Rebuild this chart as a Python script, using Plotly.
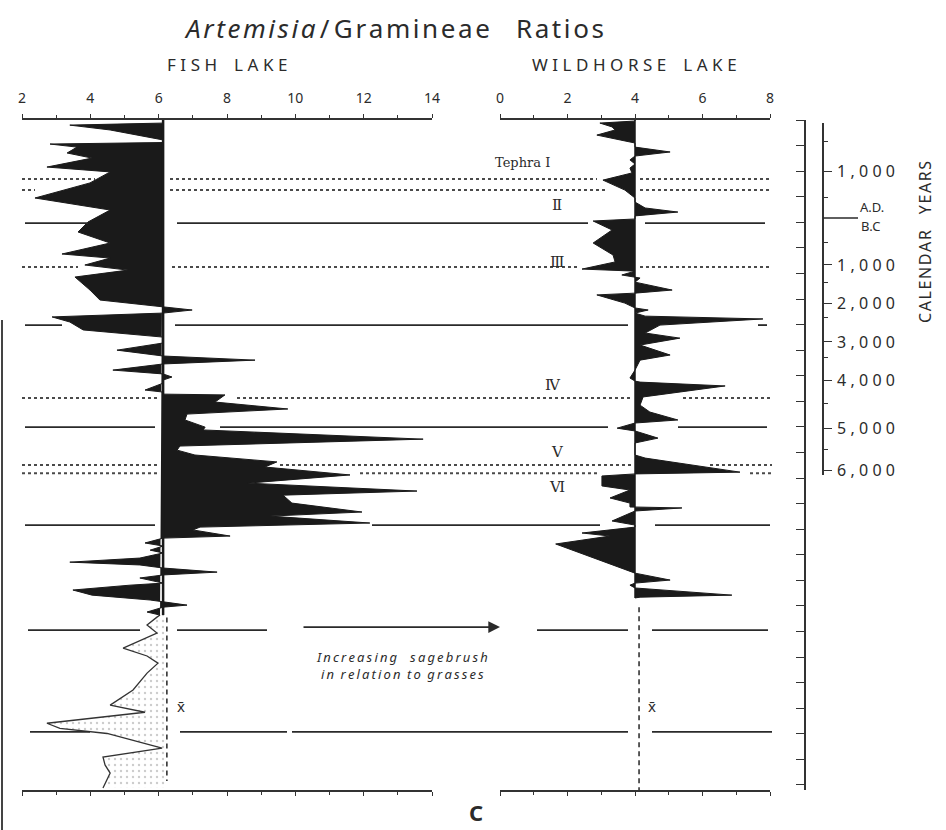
import plotly.graph_objects as go

W, H = 946, 830

# ---------------- DATA ----------------
# Fish Lake Artemisia/Gramineae ratio vs core depth (depth units = major tick spacing)
FISH_MEAN = 6.13
FISH_XBAR = 6.24
FISH_FILL_DEPTH = [0.00, 0.12, 0.20, 0.39, 0.78, 0.88, 0.94, 1.06, 1.29, 1.49, 1.84, 2.03,
                   2.46, 3.05, 3.52, 3.99, 4.38, 4.81, 5.24, 5.40, 5.67, 5.87, 6.14, 6.65,
                   7.04, 7.31, 7.43, 7.55, 7.70, 7.90, 8.21, 8.49, 8.72, 9.00, 9.23, 9.39,
                   9.54, 9.78, 9.93, 10.05, 10.17, 10.29, 10.56, 10.64, 10.72, 10.75, 11.03,
                   11.30, 11.50, 11.73, 12.01, 12.12, 12.48, 12.75, 12.91, 13.10, 13.37, 13.57,
                   13.88, 14.20, 14.51, 14.67, 14.98, 15.33, 15.49, 15.76, 15.92, 16.03, 16.27,
                   16.35, 16.54, 16.66, 16.82, 16.93, 17.13, 17.29, 17.40, 17.52, 17.68, 17.79,
                   17.91, 18.11, 18.19, 18.38, 18.58, 18.77, 18.85, 18.97, 19.05, 19.24, 19.36]
FISH_FILL_VALUE = [6.13, 6.13, 3.40, 4.58, 6.13, 6.13, 2.82, 3.61, 3.32, 4.05, 2.73, 4.58,
                   3.99, 2.38, 4.58, 3.93, 3.64, 4.58, 3.17, 4.58, 3.84, 5.10, 3.55, 3.99,
                   4.28, 6.13, 6.98, 6.13, 2.88, 3.40, 3.79, 6.13, 6.13, 4.78, 6.13, 8.82,
                   6.13, 4.66, 6.13, 6.39, 6.13, 6.13, 5.60, 6.13, 6.13, 7.94, 7.65,
                   9.78, 6.83, 6.77, 7.36, 7.30, 13.74, 6.62, 6.54, 7.06, 9.46, 9.11,
                   11.60, 8.61, 13.56, 9.64, 9.90, 11.95, 9.26, 12.18, 7.21, 7.00, 8.09,
                   6.13, 5.60, 6.13, 5.75, 6.13, 5.45, 3.40, 5.45, 6.13, 7.71, 6.13,
                   5.45, 6.13, 5.16, 3.49, 4.05, 5.75, 6.13, 6.83, 6.13, 5.66, 6.04]
FISH_LOW_DEPTH = [19.36, 19.44, 19.75, 20.06, 20.65, 20.96, 21.24, 21.63, 22.29, 22.88,
                  23.16, 23.59, 23.79, 23.99, 24.56, 24.91, 25.22, 25.54, 26.12]
FISH_LOW_VALUE = [6.04, 5.95, 5.66, 5.95, 4.96, 5.66, 5.98, 5.66, 5.25, 4.58,
                  5.60, 2.73, 3.11, 4.49, 6.10, 4.37, 4.43, 4.58, 4.37]

# Wildhorse Lake
WILD_MEAN = 4.00
WILD_XBAR = 4.12
WILD_DEPTH = [0.00, 0.04, 0.12, 0.27, 0.39, 0.59, 0.78, 0.90, 1.06, 1.25, 1.41, 1.56, 1.72,
              1.88, 2.07, 2.35, 2.74, 3.05, 3.21, 3.44, 3.60, 3.75, 3.87, 3.95, 4.30, 4.81,
              5.28, 5.55, 5.83, 5.91, 6.06, 6.18, 6.34, 6.65, 6.77, 6.84, 7.16, 7.35, 7.43,
              7.55, 7.67, 7.78, 8.02, 8.33, 8.53, 8.80, 9.19, 9.39, 9.78, 10.09, 10.21,
              10.25, 10.40, 10.83, 11.15, 11.42, 11.73, 11.85, 12.05, 12.16, 12.44, 12.63,
              13.10, 13.22, 13.77, 13.84, 13.92, 14.31, 14.47, 14.78, 14.98, 15.13, 15.17,
              15.29, 15.68, 15.84, 15.92, 16.15, 16.27, 16.58, 17.72, 17.99, 18.11, 18.19,
              18.30, 18.58, 18.66, 18.69]
WILD_VALUE = [4.00, 4.00, 2.96, 3.32, 3.41, 2.87, 3.56, 4.00, 4.00, 5.04, 4.00, 3.85, 4.00,
              3.85, 3.91, 3.05, 3.70, 4.00, 4.00, 4.30, 5.27, 4.00, 4.00, 2.76, 3.32, 2.76,
              3.35, 3.41, 2.43, 4.00, 3.61, 4.15, 4.00, 5.10, 4.00, 2.87, 3.70, 4.00, 4.39,
              4.00, 4.30, 7.79, 4.74, 4.30, 5.33, 4.15, 5.04, 4.15, 4.00, 3.85, 4.00,
              4.15, 6.67, 4.24, 4.15, 4.44, 5.27, 4.00, 3.47, 4.00, 4.68, 4.00,
              4.00, 4.30, 7.11, 4.00, 3.02, 3.02, 3.85, 3.26, 3.85, 3.85, 5.39,
              4.00, 3.32, 4.00, 4.00, 2.43, 3.26, 1.65, 4.00, 5.04, 4.00, 3.85,
              4.00, 6.87, 4.15, 4.00]

FISH_TICKS = [2, 4, 6, 8, 10, 12, 14]
WILD_TICKS = [0, 2, 4, 6, 8]

TEPHRA_DEPTHS = [2.31, 2.74, 5.75, 10.87, 13.49, 13.81]      # dotted lines
MARKER_DEPTHS = [4.03, 8.02, 12.01, 15.84, 19.95, 23.93]     # solid lines
TEPHRA_LABELS = ["Tephra Ⅰ", "Ⅱ", "Ⅲ", "Ⅳ", "Ⅴ", "Ⅵ"]
TEPHRA_LABEL_DEPTHS = [1.68, 3.32, 5.55, 10.36, 12.98, 14.35]
TEPHRA_LABEL_X = [0.68, 1.69, 1.69, 1.57, 1.69, 1.69]

AGE_LABELS = ["1,000", "1,000", "2,000", "3,000", "4,000", "5,000", "6,000"]
AGE_DEPTHS = [2.03, 5.67, 7.16, 8.68, 10.17, 12.05, 13.69]
AGE_MINOR = [0.86, 3.05, 4.81, 6.34, 7.74, 9.27, 11.07, 12.90]
ADBC_DEPTH = 3.83

# ---------------- LAYOUT HELPERS ----------------
def px(x):
    return x / W

def py(y):
    return 1 - y / H

def spaced(s, gap="\u2009", wordgap="\u2002"):
    return wordgap.join(gap.join(w) for w in s.split(" "))

INK = "#1a1a1a"
TXT = "#2b2b2b"
FONT = "Noto Sans"
HAIR = "\u200a"
THIN = "\u2009"

fig = go.Figure()

# Fish Lake lower (stippled) part
fig.add_trace(go.Scatter(
    x=FISH_LOW_VALUE + [FISH_XBAR, FISH_XBAR],
    y=FISH_LOW_DEPTH + [FISH_LOW_DEPTH[-1], FISH_LOW_DEPTH[0]],
    mode="lines", line=dict(width=0), fill="toself", fillcolor="rgba(0,0,0,0)",
    fillpattern=dict(shape=".", fgcolor="#999", bgcolor="white", size=6, solidity=0.12),
    xaxis="x", yaxis="y", hoverinfo="skip", showlegend=False))
fig.add_trace(go.Scatter(
    x=FISH_LOW_VALUE, y=FISH_LOW_DEPTH, mode="lines",
    line=dict(color="#333", width=1.3), xaxis="x", yaxis="y",
    hoverinfo="skip", showlegend=False))
# Fish Lake black silhouette
fig.add_trace(go.Scatter(
    x=FISH_FILL_VALUE, y=FISH_FILL_DEPTH, mode="lines", fill="toself",
    fillcolor=INK, line=dict(color=INK, width=1),
    xaxis="x", yaxis="y", hoverinfo="skip", showlegend=False))
fig.add_trace(go.Scatter(
    x=[FISH_MEAN, FISH_MEAN], y=[0, FISH_FILL_DEPTH[-1]], mode="lines",
    line=dict(color=INK, width=2.5), xaxis="x", yaxis="y",
    hoverinfo="skip", showlegend=False))
fig.add_trace(go.Scatter(
    x=[FISH_XBAR, FISH_XBAR], y=[19.45, 25.85], mode="lines",
    line=dict(color="#333", width=1.6, dash="5px,4px"), xaxis="x", yaxis="y",
    hoverinfo="skip", showlegend=False))

# Wildhorse Lake
fig.add_trace(go.Scatter(
    x=WILD_VALUE, y=WILD_DEPTH, mode="lines", fill="toself",
    fillcolor=INK, line=dict(color=INK, width=1),
    xaxis="x2", yaxis="y", hoverinfo="skip", showlegend=False))
fig.add_trace(go.Scatter(
    x=[WILD_MEAN, WILD_MEAN], y=[0, WILD_DEPTH[-1]], mode="lines",
    line=dict(color=INK, width=1.5), xaxis="x2", yaxis="y",
    hoverinfo="skip", showlegend=False))
fig.add_trace(go.Scatter(
    x=[WILD_XBAR, WILD_XBAR], y=[19.05, 26.2], mode="lines",
    line=dict(color="#333", width=1.6, dash="5px,4px"), xaxis="x2", yaxis="y",
    hoverinfo="skip", showlegend=False))

# age axis carrier (own tiny invisible x axis so it does not cover the panels)
fig.add_trace(go.Scatter(
    x=[0] * len(AGE_DEPTHS), y=AGE_DEPTHS, mode="markers",
    marker=dict(opacity=0, size=1), xaxis="x3", yaxis="y2",
    hoverinfo="skip", showlegend=False))

# ---------------- horizontal depth lines ----------------
dotted_segments = [
    [(22, 95), (170, 597), (640, 772)],
    [(22, 35), (170, 607), (640, 772)],
    [(22, 78), (172, 580), (640, 772)],
    [(22, 158), (237, 632), (683, 772)],
    [(22, 158), (280, 633), (710, 772)],
    [(22, 158), (360, 598), (750, 772)],
]
solid_segments = [
    [(25, 88), (177, 588), (645, 765)],
    [(25, 62), (175, 628), (758, 767)],
    [(25, 155), (220, 608), (678, 767)],
    [(25, 155), (372, 600), (655, 770)],
    [(28, 140), (177, 267), (537, 628), (652, 768)],
    [(30, 90), (180, 287), (292, 628), (652, 772)],
]
shapes = []
for d, segs in zip(TEPHRA_DEPTHS, dotted_segments):
    for a, b in segs:
        shapes.append(dict(type="line", xref="paper", yref="y", x0=px(a), x1=px(b),
                           y0=d, y1=d, line=dict(color="#4a4a4a", width=2, dash="dot")))
for d, segs in zip(MARKER_DEPTHS, solid_segments):
    for a, b in segs:
        shapes.append(dict(type="line", xref="paper", yref="y", x0=px(a), x1=px(b),
                           y0=d, y1=d, line=dict(color="#2a2a2a", width=1.8)))
# A.D./B.C. long tick
shapes.append(dict(type="line", xref="paper", yref="y", x0=px(823), x1=px(858),
                   y0=ADBC_DEPTH, y1=ADBC_DEPTH, line=dict(color="#2a2a2a", width=1.6)))
# scan page border at left
shapes.append(dict(type="line", xref="paper", yref="paper", x0=px(2), x1=px(2),
                   y0=py(320), y1=0, line=dict(color="#444", width=2)))

title_txt = ("<i>" + HAIR.join("Artemisia") + "</i>" + THIN + "/" + THIN
             + HAIR.join("Gramineae") + "\u2003" + HAIR.join("Ratios"))
annotations = [
    dict(text=title_txt, x=px(394), y=py(28), font=dict(size=26, color=TXT)),
    dict(text=spaced("FISH LAKE", gap=THIN + HAIR, wordgap="\u2003"), x=px(227), y=py(65),
         font=dict(size=17, color=TXT)),
    dict(text=spaced("WILDHORSE LAKE", gap=THIN + HAIR, wordgap="\u2003"), x=px(634), y=py(65),
         font=dict(size=17, color=TXT)),
    dict(text=spaced("CALENDAR YEARS", gap=HAIR, wordgap="\u2003"), x=px(925), y=py(242),
         textangle=-90, font=dict(size=16, color=TXT)),
    dict(text="A.D.", x=px(872), y=py(207), font=dict(size=13, color=TXT)),
    dict(text="B.C", x=px(870), y=py(226), font=dict(size=13, color=TXT)),
    dict(text="<i>" + spaced("Increasing  sagebrush") + "</i><br><i>"
              + spaced("in relation to grasses") + "</i>",
         x=px(402), y=py(665), font=dict(size=13, color=TXT)),
    dict(text="x̄", x=px(181), y=py(706), font=dict(size=15, color=TXT)),
    dict(text="x̄", x=px(652), y=py(706), font=dict(size=15, color=TXT)),
    dict(text="<b>C</b>", x=px(476), y=py(812), font=dict(size=22, color=TXT)),
]
for a in annotations:
    a.update(xref="paper", yref="paper", showarrow=False, xanchor="center", yanchor="middle")

for lab, d, xv in zip(TEPHRA_LABELS, TEPHRA_LABEL_DEPTHS, TEPHRA_LABEL_X):
    annotations.append(dict(text=lab, x=xv, y=d, xref="x2", yref="y", showarrow=False,
                            xanchor="center", yanchor="middle",
                            font=dict(size=13 if lab.startswith("T") else 15,
                                      family="DejaVu Serif", color=TXT)))

# arrow
annotations.append(dict(text="", x=px(500), y=19.83, xref="paper", yref="y",
                        ax=-198, ay=0, showarrow=True, arrowhead=2, arrowsize=1.3,
                        arrowwidth=1.8, arrowcolor="#2a2a2a"))

axis_common = dict(showgrid=False, zeroline=False, showline=True, linecolor="#333",
                   linewidth=1.5, ticks="outside", ticklen=4, tickwidth=1.2,
                   tickcolor="#333", mirror="ticks", side="top", anchor="y",
                   automargin=False,
                   tickfont=dict(size=14, color=TXT, family=FONT), ticklabelstandoff=6,
                   minor=dict(ticks="outside", dtick=1, ticklen=3, tickcolor="#333"))

fig.update_layout(
    width=W, height=H,
    margin=dict(l=0, r=0, t=0, b=0, pad=0),
    paper_bgcolor="white", plot_bgcolor="rgba(0,0,0,0)",
    font=dict(family=FONT, color=TXT),
    xaxis=dict(domain=[px(22), px(432)], range=[2, 14], tickmode="array",
               tickvals=FISH_TICKS, ticktext=[str(t) for t in FISH_TICKS], **axis_common),
    xaxis2=dict(domain=[px(500), px(770)], range=[0, 8], tickmode="array",
                tickvals=WILD_TICKS, ticktext=[str(t) for t in WILD_TICKS], **axis_common),
    xaxis3=dict(domain=[px(823), px(826)], range=[-1, 1], visible=False, anchor="y2",
                automargin=False),
    yaxis=dict(domain=[py(790), py(120)], range=[26.2, 0], anchor="free",
               position=px(805), side="left", showgrid=False, zeroline=False,
               showline=True, linecolor="#333", linewidth=1.8, ticks="outside",
               ticklen=8, tickwidth=1.4, tickcolor="#333", tick0=0, dtick=1,
               showticklabels=False, automargin=False),
    yaxis2=dict(domain=[py(475), py(123)], range=[13.88, 0.12], anchor="free",
                position=px(823), side="right", showgrid=False, zeroline=False,
                showline=True, linecolor="#333", linewidth=1.8, ticks="outside",
                ticklen=8, tickwidth=1.4, tickcolor="#333", tickmode="array",
                tickvals=AGE_DEPTHS,
                ticktext=[(THIN + HAIR).join(t) for t in AGE_LABELS],
                automargin=False,
                tickfont=dict(size=16, color=TXT, family=FONT), ticklabelstandoff=2,
                minor=dict(ticks="outside", tickmode="array", tickvals=AGE_MINOR,
                           ticklen=4, tickcolor="#333")),
    shapes=shapes,
    annotations=annotations,
    showlegend=False,
)

fig.write_html("out.html", config={"displayModeBar": False},
               post_script="document.body.style.margin='0';document.body.style.padding='0';")
